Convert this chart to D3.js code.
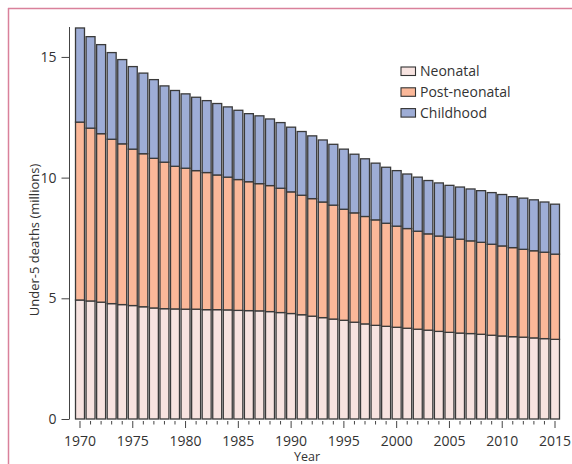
<!DOCTYPE html>
<html>
<head>
<meta charset="utf-8">
<script src="https://cdn.jsdelivr.net/npm/d3@7"></script>
<style>
  html, body { margin: 0; padding: 0; background: #fff; }
  svg { display: block; font-family: "Open Sans", "Noto Sans", sans-serif; }
</style>
</head>
<body>
<svg id="chart" width="572" height="464"></svg>
<script>
// Under-5 deaths by age group, millions
const years = d3.range(1970, 2016);

const neonatal = [
  4.93, 4.89, 4.84, 4.78, 4.74, 4.70, 4.65, 4.60, 4.57, 4.56,
  4.55, 4.55, 4.53, 4.53, 4.52, 4.50, 4.49, 4.48, 4.45, 4.41,
  4.37, 4.32, 4.26, 4.20, 4.14, 4.09, 4.01, 3.94, 3.88, 3.84,
  3.80, 3.76, 3.72, 3.68, 3.63, 3.59, 3.56, 3.54, 3.51, 3.47,
  3.44, 3.41, 3.39, 3.36, 3.33, 3.30
];

// neonatal + post-neonatal (cumulative)
const upToPostNeonatal = [
  12.30, 12.05, 11.82, 11.59, 11.40, 11.18, 10.99, 10.80, 10.64, 10.47,
  10.39, 10.29, 10.21, 10.11, 10.02, 9.92, 9.83, 9.75, 9.67, 9.56,
  9.41, 9.27, 9.13, 8.99, 8.86, 8.69, 8.54, 8.39, 8.25, 8.11,
  7.99, 7.89, 7.78, 7.67, 7.58, 7.53, 7.45, 7.38, 7.32, 7.24,
  7.17, 7.10, 7.03, 6.97, 6.91, 6.83
];

// all under-5 deaths (cumulative)
const total = [
  16.20, 15.84, 15.51, 15.18, 14.89, 14.60, 14.33, 14.06, 13.80, 13.61,
  13.47, 13.33, 13.19, 13.07, 12.93, 12.79, 12.65, 12.56, 12.43, 12.28,
  12.09, 11.91, 11.73, 11.56, 11.38, 11.18, 10.97, 10.78, 10.60, 10.43,
  10.29, 10.15, 10.02, 9.88, 9.78, 9.68, 9.61, 9.53, 9.46, 9.38,
  9.30, 9.21, 9.15, 9.08, 8.99, 8.90
];

const seriesNames = ["Neonatal", "Post-neonatal", "Childhood"];
const seriesColors = ["#f7e3e0", "#fbb899", "#9eadd6"];
const yTicks = [0, 5, 10, 15];
const yTitle = "Under-5 deaths (millions)";
const xTitle = "Year";

const rows = years.map((yr, i) => ({
  year: yr,
  "Neonatal": neonatal[i],
  "Post-neonatal": upToPostNeonatal[i] - neonatal[i],
  "Childhood": total[i] - upToPostNeonatal[i]
}));

const svg = d3.select("#chart");

// frame lines
svg.append("line").attr("x1", 8.5).attr("x2", 8.5).attr("y1", 8).attr("y2", 464)
  .attr("stroke", "#d9819b").attr("stroke-width", 1.5);
svg.append("line").attr("x1", 8).attr("x2", 572).attr("y1", 8.5).attr("y2", 8.5)
  .attr("stroke", "#d9819b").attr("stroke-width", 1.5);

const x = d3.scaleBand()
  .domain(years)
  .range([74.72, 560.28])
  .paddingInner(0.15)
  .paddingOuter(0.075);

const y = d3.scaleLinear().domain([0, 16.24]).range([419, 27]);

const stack = d3.stack().keys(seriesNames);
const layers = stack(rows);

const g = svg.append("g");
g.selectAll("g.layer")
  .data(layers)
  .join("g")
  .attr("class", "layer")
  .attr("fill", (d, i) => seriesColors[i])
  .selectAll("rect")
  .data(d => d)
  .join("rect")
  .attr("x", d => x(d.data.year))
  .attr("width", x.bandwidth())
  .attr("y", d => y(d[1]))
  .attr("height", d => y(d[0]) - y(d[1]))
  .attr("stroke", "#3a3a3a")
  .attr("stroke-width", 1.3);

// y axis
const yAxis = svg.append("g")
  .attr("transform", "translate(69.5,0)")
  .call(d3.axisLeft(y).tickValues(yTicks).tickSize(8).tickSizeOuter(0).tickPadding(5));
yAxis.select(".domain").attr("stroke", "#444").attr("d", `M0,${y.range()[1]}V${y(0)}`);
yAxis.selectAll(".tick line").attr("stroke", "#444");
yAxis.selectAll(".tick text").attr("font-size", 14).attr("fill", "#333")
  .attr("font-family", "Open Sans, sans-serif");

// x axis: yearly minor ticks, labelled major ticks every 5 years
const xc = d => x(d) + x.bandwidth() / 2;
const xAxis = svg.append("g").attr("transform", "translate(0,421)");
xAxis.selectAll("line")
  .data(years)
  .join("line")
  .attr("x1", d => xc(d)).attr("x2", d => xc(d))
  .attr("y1", 0).attr("y2", d => d % 5 === 0 ? 7 : 3.5)
  .attr("stroke", "#444").attr("stroke-width", 1);
xAxis.selectAll("text")
  .data(years.filter(d => d % 5 === 0))
  .join("text")
  .attr("x", d => xc(d)).attr("y", 24.5)
  .attr("text-anchor", "middle")
  .attr("font-size", 14).attr("fill", "#333")
  .text(d => d);

svg.append("text")
  .attr("x", 307).attr("y", 461)
  .attr("text-anchor", "middle")
  .attr("font-size", 12.5).attr("fill", "#333")
  .text(xTitle);

svg.append("text")
  .attr("transform", "translate(39,240) rotate(-90)")
  .attr("text-anchor", "middle")
  .attr("font-size", 13).attr("fill", "#333")
  .text(yTitle);

// legend
const legend = svg.append("g").attr("transform", "translate(401,71)");
const item = legend.selectAll("g")
  .data(seriesNames)
  .join("g")
  .attr("transform", (d, i) => `translate(0,${i * 20.8})`);
item.append("rect")
  .attr("x", 0).attr("y", -4).attr("width", 14.5).attr("height", 8.5)
  .attr("fill", (d, i) => seriesColors[i])
  .attr("stroke", "#333").attr("stroke-width", 1.1);
item.append("text")
  .attr("x", 19).attr("y", 5)
  .attr("font-size", 14).attr("fill", "#333")
  .text(d => d);
</script>
</body>
</html>
